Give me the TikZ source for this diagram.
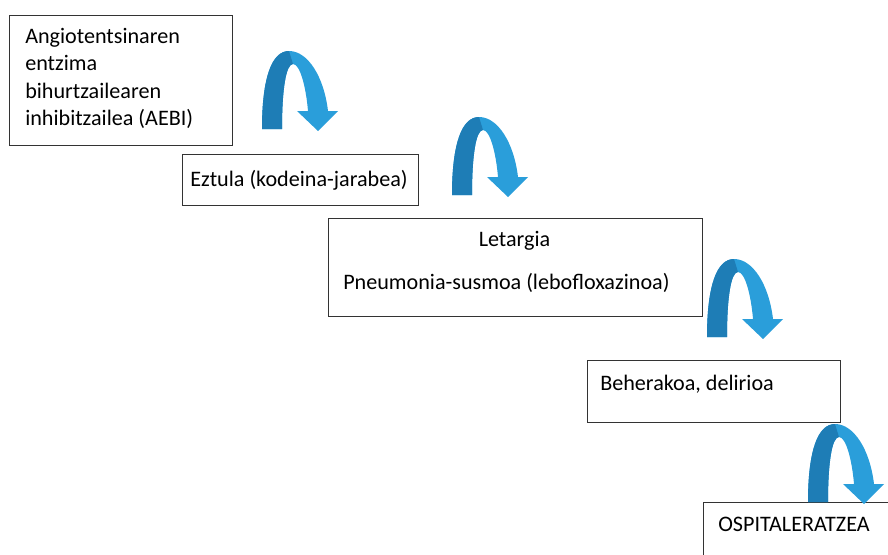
\documentclass[tikz,border=0pt]{standalone}
\usepackage{fontspec}
\setmainfont{Carlito}
\usepackage{tikz}

\definecolor{arrowdark}{RGB}{30,125,182}
\definecolor{arrowlight}{RGB}{42,158,218}

\tikzset{
  stepbox/.style={draw=black!80, line width=0.8pt, anchor=north west, inner sep=0pt},
  steptext/.style={anchor=base west, inner sep=0pt, font=\fontsize{16.6}{20}\selectfont}
}

\newcommand{\uturnarrow}[1]{%
  \begin{scope}[shift={#1}]
    \fill[arrowlight] (0,0) .. controls (0,-52) and (10,-78) .. (27,-78)
      .. controls (46,-78) and (62,-52) .. (66,-18) -- (76,-18) -- (56,2)
      -- (35,-18) -- (46,-18) .. controls (44,-42) and (38,-65) .. (31,-65)
      .. controls (24,-65) and (20,-40) .. (20,0) -- cycle;
    \fill[arrowdark] (0,0) .. controls (0,-52) and (10,-78) .. (27,-78)
      -- (31,-65) .. controls (24,-65) and (20,-40) .. (20,0) -- cycle;
  \end{scope}}

\begin{document}
\begin{tikzpicture}[x=0.75pt, y=-0.75pt]
  \useasboundingbox (0,0) rectangle (888,554);
  \clip (0,0) rectangle (888,554);

  %Boxes
  \node[stepbox, minimum width=167.25pt, minimum height=97.5pt] (aebi) at (9,15) {};
  \node[stepbox, minimum width=177pt, minimum height=38.25pt] (eztula) at (182,154) {};
  \node[stepbox, minimum width=280.5pt, minimum height=73.5pt] (letargia) at (328,218) {};
  \node[stepbox, minimum width=189.75pt, minimum height=46.5pt] (beherakoa) at (587,360) {};
  \node[stepbox, minimum width=150pt, minimum height=52.5pt] (ospital) at (703,502) {};

  %Texts
  \node[steptext] (aebi1) at (25,43) {Angiotentsinaren};
  \node[steptext] (aebi2) at (25,70.5) {entzima};
  \node[steptext] (aebi3) at (25,98) {bihurtzailearen};
  \node[steptext] (aebi4) at (25,125.5) {inhibitzailea (AEBI)};
  \node[steptext] (eztulatxt) at (190,186) {Eztula (kodeina-jarabea)};
  \node[steptext, anchor=base] (letargiatxt) at (514.5,246.5) {Letargia};
  \node[steptext] (pneumoniatxt) at (343,289.5) {Pneumonia-susmoa (lebofloxazinoa)};
  \node[steptext] (beherakoatxt) at (600,390) {Beherakoa, delirioa};
  \node[steptext] (ospitaltxt) at (718,531) {OSPITALERATZEA};

  %Arrows
  \uturnarrow{(262,129)}
  \uturnarrow{(452,195)}
  \uturnarrow{(707,337)}
  \uturnarrow{(808,502)}
\end{tikzpicture}
\end{document}
